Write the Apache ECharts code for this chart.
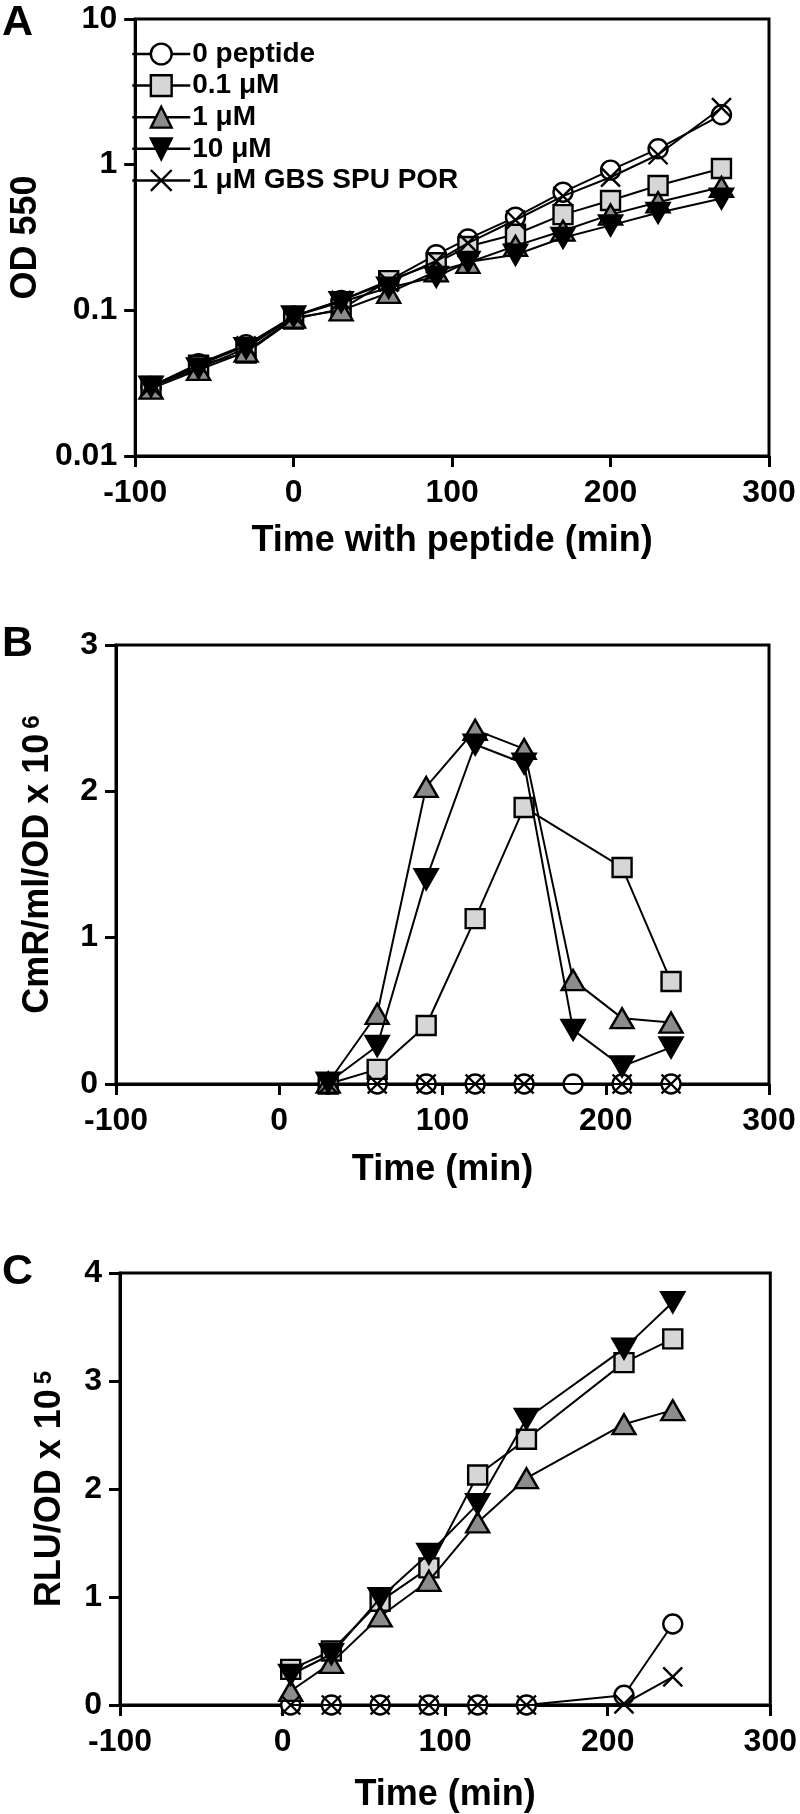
<!DOCTYPE html>
<html>
<head>
<meta charset="utf-8">
<style>
html,body{margin:0;padding:0;background:#fff;}
#chart{width:800px;height:1814px;}
</style>
<script src="https://cdn.jsdelivr.net/npm/echarts@6/dist/echarts.min.js"></script>
</head>
<body>
<div id="chart"></div>
<script>
// ---------- DATA ----------
const seriesNames = ['0 peptide', '0.1 \u03bcM', '1 \u03bcM', '10 \u03bcM', '1 \u03bcM GBS SPU POR'];
const xTickLabels = ['-100', '0', '100', '200', '300'];

// Panel A: OD 550 (log)
const timeA = [-90, -60, -30, 0, 30, 60, 90, 110, 140, 170, 200, 230, 270];
const odPeptide0 = [0.030, 0.043, 0.058, 0.091, 0.117, 0.160, 0.241, 0.309, 0.436, 0.647, 0.917, 1.285, 2.20];
const odPep01 = [0.030, 0.042, 0.051, 0.087, 0.102, 0.160, 0.212, 0.274, 0.333, 0.454, 0.568, 0.719, 0.942];
const odPep1 = [0.029, 0.039, 0.052, 0.089, 0.100, 0.132, 0.185, 0.212, 0.277, 0.352, 0.454, 0.552, 0.703];
const odPep10 = [0.030, 0.040, 0.055, 0.091, 0.114, 0.143, 0.170, 0.215, 0.241, 0.315, 0.383, 0.467, 0.585];
const odGbs = [0.030, 0.042, 0.057, 0.091, 0.117, 0.156, 0.218, 0.289, 0.417, 0.608, 0.82, 1.17, 2.46];

// Panel B: CmR/ml/OD x 10^6
const timeB = [30, 60, 90, 120, 150, 180, 210, 240];
const cmrPeptide0 = [0, 0, 0, 0, 0, 0, 0, 0];
const cmrPep01 = [0, 0.10, 0.40, 1.13, 1.89, null, 1.48, 0.70];
const cmrPep1 = [0.01, 0.48, 2.03, 2.42, 2.29, 0.71, 0.45, 0.42];
const cmrPep10 = [0.01, 0.26, 1.40, 2.32, 2.19, 0.37, 0.12, 0.25];
const cmrGbs = [0, 0, 0, 0, 0, null, 0, 0];

// Panel C: RLU/OD x 10^5
const timeC = [5, 30, 60, 90, 120, 150, 210, 240];
const rluPeptide0 = [0, 0, 0, 0, 0, 0, 0.09, 0.75];
const rluPep01 = [0.33, 0.50, 0.96, 1.27, 2.13, 2.46, 3.17, 3.39];
const rluPep1 = [0.13, 0.39, 0.82, 1.15, 1.69, 2.10, 2.60, 2.73];
const rluPep10 = [0.28, 0.47, 0.99, 1.40, 1.86, 2.65, 3.30, 3.73];
const rluGbs = [0, 0, 0, 0, 0, 0, 0.01, 0.26];

// ---------- STYLE ----------
const FONT = '"Liberation Sans", Arial, sans-serif';
const symbolDefs = [
  {symbol: 'circle', size: 19, fill: '#ffffff'},
  {symbol: 'rect', size: 19, fill: '#d6d6d6'},
  {symbol: 'path://M5,0L10,8.66L0,8.66Z', size: [23, 20], fill: '#8c8c8c'},
  {symbol: 'path://M0,0L10,0L5,8.66Z', size: [23, 20], fill: '#000000'},
  {symbol: 'path://M0,0L10,10M10,0L0,10', size: 19, fill: '#000000'}
];

function pairs(xs, ys) {
  const out = [];
  xs.forEach((x, i) => { if (ys[i] !== null && ys[i] !== undefined) out.push([x, ys[i]]); });
  return out;
}

const panels = [
  {x: timeA, ys: [odPeptide0, odPep01, odPep1, odPep10, odGbs]},
  {x: timeB, ys: [cmrPeptide0, cmrPep01, cmrPep1, cmrPep10, cmrGbs]},
  {x: timeC, ys: [rluPeptide0, rluPep01, rluPep1, rluPep10, rluGbs]}
];

const series = [];
panels.forEach((p, pi) => {
  p.ys.forEach((ys, si) => {
    const d = symbolDefs[si];
    series.push({
      type: 'line',
      name: seriesNames[si],
      xAxisIndex: pi, yAxisIndex: pi,
      data: pairs(p.x, ys),
      symbol: d.symbol,
      symbolSize: d.size,
      showAllSymbol: true,
      animation: false,
      lineStyle: {color: '#000', width: 2},
      itemStyle: {color: d.fill, borderColor: '#000', borderWidth: 2.4, opacity: 1},
      emphasis: {disabled: true},
      z: 2 + si
    });
  });
});

const grids = [
  {left: 116, top: 19, width: 653, height: 437},
  {left: 116, top: 645, width: 653, height: 439},
  {left: 120, top: 1273, width: 652, height: 433}
];

const axisLine = {show: true, onZero: false, lineStyle: {color: '#000', width: 3}};
const axisTick = {show: true, length: 11, inside: false, lineStyle: {color: '#000', width: 3}};
const tickLabel = {color: '#000', fontFamily: FONT, fontWeight: 'bold', fontSize: 32};
const nameStyle = {color: '#000', fontFamily: FONT, fontWeight: 'bold', fontSize: 36,
  rich: {sup: {fontSize: 24, fontFamily: FONT, fontWeight: 'bold', color: '#000', verticalAlign: 'top', lineHeight: 36, padding: [0, 0, 0, 5]}}};

const xNames = ['Time with peptide (min)', 'Time (min)', 'Time (min)'];
const xNameGaps = [67, 68, 72];
const xAxes = grids.map((g, i) => ({
  type: 'value', gridIndex: i, min: -100, max: 300, interval: 100,
  name: xNames[i], nameLocation: 'middle', nameGap: xNameGaps[i], nameTextStyle: nameStyle,
  axisLine: axisLine, axisTick: axisTick, splitLine: {show: false},
  axisLabel: Object.assign({margin: 21, formatter: v => xTickLabels[(v + 100) / 100]}, tickLabel)
}));

const yAxes = [
  {type: 'log', logBase: 10, gridIndex: 0, min: 0.01, max: 10,
   name: 'OD 550', nameGap: 76},
  {type: 'value', gridIndex: 1, min: 0, max: 3, interval: 1,
   name: 'CmR/ml/OD x 10{sup|6}', nameGap: 60},
  {type: 'value', gridIndex: 2, min: 0, max: 4, interval: 1,
   name: 'RLU/OD x 10{sup|5}', nameGap: 52}
].map(a => Object.assign({
  nameLocation: 'middle', nameTextStyle: nameStyle,
  axisLine: axisLine, axisTick: axisTick, splitLine: {show: false}, minorTick: {show: false},
  axisLabel: Object.assign({margin: 18}, tickLabel)
}, a));

const letterStyle = {fontFamily: FONT, fontWeight: 'bold', fontSize: 43, fill: '#000', textVerticalAlign: 'middle'};

const option = {
  backgroundColor: '#fff',
  animation: false,
  grid: grids.map(g => Object.assign({show: true, borderColor: '#000', borderWidth: 3, backgroundColor: 'transparent', containLabel: false}, g)),
  xAxis: xAxes,
  yAxis: yAxes,
  legend: {
    orient: 'vertical', left: 126, top: 35,
    itemWidth: 58, itemHeight: 26, itemGap: 3.6,
    selectedMode: false,
    lineStyle: {width: 2.5, color: '#000'},
    itemStyle: {borderWidth: 2.4, borderColor: '#000'},
    textStyle: {color: '#000', fontFamily: FONT, fontWeight: 'bold', fontSize: 28, lineHeight: 26, padding: [0, 0, 0, -3]},
    data: seriesNames
  },
  graphic: [
    {type: 'text', x: 2, y: 23, style: Object.assign({text: 'A'}, letterStyle)},
    {type: 'text', x: 2, y: 644, style: Object.assign({text: 'B'}, letterStyle)},
    {type: 'text', x: 2, y: 1272, style: Object.assign({text: 'C'}, letterStyle)}
  ],
  series: series
};

const chart = echarts.init(document.getElementById('chart'), null, {renderer: 'canvas'});
chart.setOption(option);
</script>
</body>
</html>
